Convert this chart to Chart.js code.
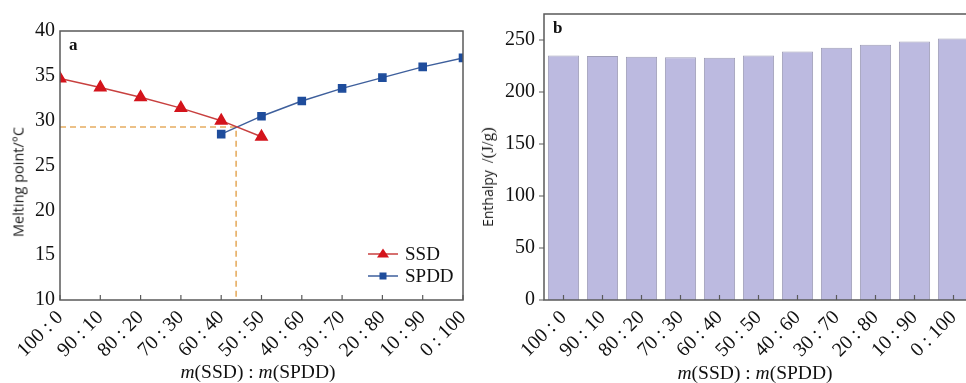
<!DOCTYPE html>
<html>
<head>
<meta charset="utf-8">
<script src="https://cdn.jsdelivr.net/npm/chart.js@4.4.1/dist/chart.umd.min.js"></script>
<style>
html,body{margin:0;padding:0;background:#fff;overflow:hidden;width:966px;height:383px;}
#wrapA{position:absolute;left:0;top:0;width:480px;height:383px;}
#wrapB{position:absolute;left:480px;top:0;width:500px;height:383px;}
.ytitle{position:absolute;transform:translate(-50%,-50%) rotate(-90deg);white-space:nowrap;color:#1a1a1a;}
.xtitle{position:absolute;transform:translate(-50%,-50%);white-space:nowrap;font-family:"Liberation Serif",serif;font-size:19.5px;color:#111;}
</style>
</head>
<body>
<div id="wrapA"><canvas id="cA" width="480" height="383"></canvas></div>
<div id="wrapB"><canvas id="cB" width="500" height="383"></canvas></div>
<div class="ytitle" style="left:18px;top:182px;font-family:'Open Sans',sans-serif;font-size:14.5px;">Melting point/°C</div>
<div class="ytitle" style="left:488px;top:177px;font-size:14px;"><span style="font-family:'Open Sans',sans-serif;">Enthalpy</span>&nbsp;&nbsp;<span style="font-family:'Liberation Serif',serif;font-size:17px;">/(J/g)</span></div>
<div class="xtitle" style="left:258px;top:372px;"><i>m</i>(SSD)&nbsp;:&nbsp;<i>m</i>(SPDD)</div>
<div class="xtitle" style="left:755px;top:373px;"><i>m</i>(SSD)&nbsp;:&nbsp;<i>m</i>(SPDD)</div>
<script>
// ---- data ----
const categories = ["100 : 0","90 : 10","80 : 20","70 : 30","60 : 40","50 : 50","40 : 60","30 : 70","20 : 80","10 : 90","0 : 100"];
const ssdIndex = [0,1,2,3,4,5];
const ssdMelting = [34.7,33.7,32.6,31.4,30.0,28.2];
const spddIndex = [4,5,6,7,8,9,10];
const spddMelting = [28.5,30.5,32.2,33.6,34.8,36.0,37.0];
const eutecticX = 4.37;
const eutecticY = 29.3;
const enthalpy = [235,234.5,234,233.5,233,235,239,242.5,245.5,248.5,251.5];
const meltTicks = [10,15,20,25,30,35,40];
const enthTicks = [0,50,100,150,200,250];

const serif = "'Liberation Serif', 'Times New Roman', serif";

function boxPlugin(label, opts){
  return {
    id:'box'+label,
    afterDraw(chart){
      const {ctx, chartArea:a, scales} = chart;
      ctx.save();
      ctx.strokeStyle = '#5a5a5a';
      ctx.lineWidth = 1.5;
      ctx.strokeRect(a.left, a.top, a.right-a.left, a.bottom-a.top);
      ctx.lineWidth = 1.2;
      ctx.beginPath();
      const xs = scales.x;
      for(let i=0;i<categories.length;i++){
        const px = xs.getPixelForValue(i);
        ctx.moveTo(px, a.bottom); ctx.lineTo(px, a.bottom-5);
      }
      if(opts.yTicksOut){
        const ys = scales.y;
        enthTicks.forEach(v=>{const py=ys.getPixelForValue(v); ctx.moveTo(a.left,py); ctx.lineTo(a.left-5,py);});
      }
      ctx.stroke();
      ctx.fillStyle = '#111';
      ctx.font = "bold 17px " + serif;
      ctx.textBaseline = 'top';
      ctx.fillText(label, a.left+9, a.top+6);
      ctx.restore();
    }
  };
}

const legendPlugin = {
  id:'legA',
  afterDraw(chart){
    const {ctx} = chart;
    ctx.save();
    [0,1].forEach((di,k)=>{
      const ds = chart.data.datasets[di];
      const y = 254 + k*22;
      const x0 = 368, x1 = 398, xm = 383;
      ctx.strokeStyle = ds.borderColor; ctx.lineWidth = 1.5;
      ctx.beginPath(); ctx.moveTo(x0,y); ctx.lineTo(x1,y); ctx.stroke();
      ctx.fillStyle = ds.pointBackgroundColor;
      if(ds.pointStyle==='triangle'){
        ctx.beginPath(); ctx.moveTo(xm, y-5.5); ctx.lineTo(xm+6, y+3.5); ctx.lineTo(xm-6, y+3.5); ctx.closePath(); ctx.fill();
      } else {
        ctx.fillRect(xm-3.5, y-3.5, 7, 7);
      }
      ctx.fillStyle = '#111';
      ctx.font = "19px " + serif;
      ctx.textBaseline = 'middle';
      ctx.fillText(ds.label, 405, y+1);
    });
    ctx.restore();
  }
};

const xy = (xsArr, ysArr) => xsArr.map((x,i)=>({x:x, y:ysArr[i]}));

new Chart(document.getElementById('cA'), {
  type:'line',
  data:{
    datasets:[
      {label:'SSD', data: xy(ssdIndex, ssdMelting), borderColor:'#c8403f', backgroundColor:'#d4141c', pointBackgroundColor:'#d4141c', pointBorderColor:'#d4141c', pointStyle:'triangle', pointRadius:6.5, borderWidth:1.5, tension:0},
      {label:'SPDD', data: xy(spddIndex, spddMelting), borderColor:'#3e5f9c', backgroundColor:'#1f4d9c', pointBackgroundColor:'#1f4d9c', pointBorderColor:'#1f4d9c', pointStyle:'rect', pointRadius:5, borderWidth:1.5, tension:0},
      {label:'guide', data:[{x:0,y:eutecticY},{x:eutecticX,y:eutecticY},{x:eutecticX,y:10}], borderColor:'#e6ad62', borderDash:[6,4], borderWidth:1.6, pointRadius:0, tension:0}
    ]
  },
  options:{
    responsive:false, animation:false,
    layout:{padding:{top:31,right:17,left:0,bottom:0}},
    plugins:{legend:{display:false}, tooltip:{enabled:false}},
    scales:{
      x:{type:'linear', min:0, max:10,
        afterFit(s){s.height=83; s.paddingRight=0; s.paddingLeft=0;},
        grid:{display:false, drawTicks:false, tickLength:0}, border:{display:false},
        ticks:{stepSize:1, autoSkip:false, maxRotation:45, minRotation:45, color:'#111', font:{family:serif, size:20}, padding:6,
          callback:(v)=>categories[v]}
      },
      y:{min:10, max:40,
        afterFit(s){s.width=60; s.paddingTop=0; s.paddingBottom=0;},
        grid:{display:false, drawTicks:false, tickLength:0}, border:{display:false},
        afterBuildTicks(s){s.ticks = meltTicks.map(v=>({value:v}));},
        ticks:{color:'#111', font:{family:serif, size:20}, padding:5}
      }
    }
  },
  plugins:[boxPlugin('a',{}), legendPlugin]
});

new Chart(document.getElementById('cB'), {
  type:'bar',
  data:{
    labels:categories,
    datasets:[{label:'Enthalpy', data:enthalpy, backgroundColor:'#bcbae0', borderColor:'#a09fb8', borderWidth:1, categoryPercentage:0.8, barPercentage:1.0}]
  },
  options:{
    responsive:false, animation:false,
    layout:{padding:{top:14,right:7,left:0,bottom:0}},
    plugins:{legend:{display:false}, tooltip:{enabled:false}},
    scales:{
      x:{
        afterFit(s){s.height=83; s.paddingRight=0; s.paddingLeft=0;},
        grid:{display:false, drawTicks:false, tickLength:0}, border:{display:false},
        ticks:{autoSkip:false, maxRotation:45, minRotation:45, color:'#111', font:{family:serif, size:20}, padding:6}
      },
      y:{min:0, max:275,
        afterFit(s){s.width=64; s.paddingTop=0; s.paddingBottom=0;},
        grid:{display:false, drawTicks:false, tickLength:0}, border:{display:false},
        afterBuildTicks(s){s.ticks = enthTicks.map(v=>({value:v}));},
        ticks:{color:'#111', font:{family:serif, size:20}, padding:9}
      }
    }
  },
  plugins:[boxPlugin('b',{yTicksOut:true})]
});
</script>
</body>
</html>
